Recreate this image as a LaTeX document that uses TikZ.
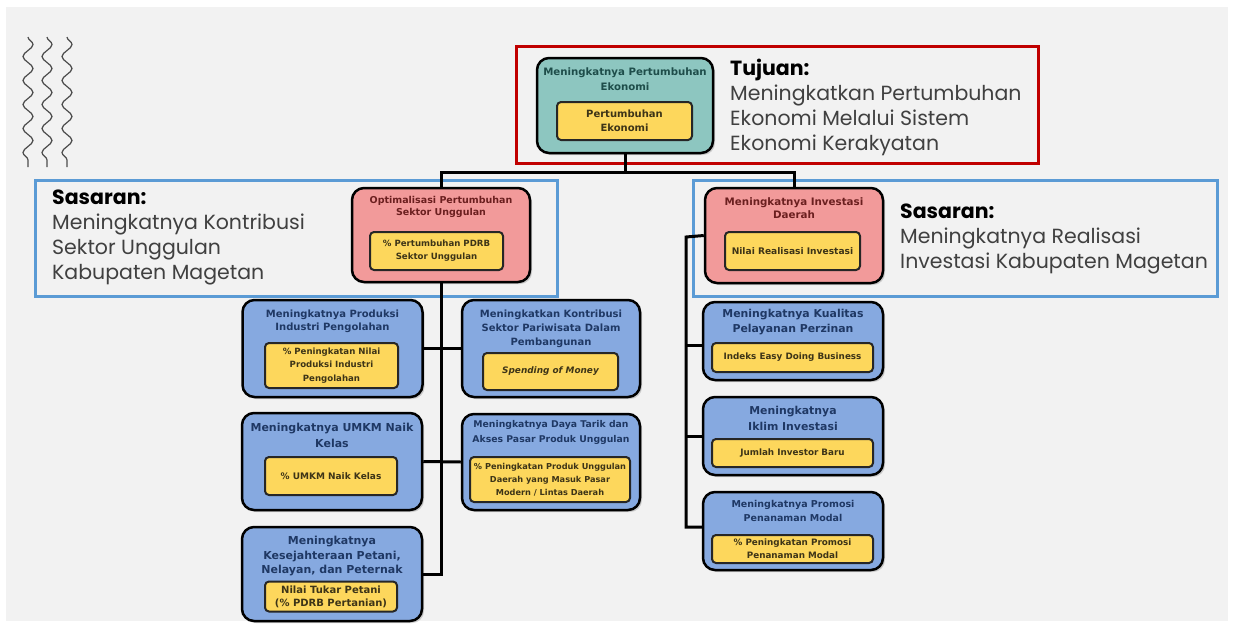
\documentclass[tikz,border=0pt]{standalone}
\usepackage{fontspec}
\setmainfont{Liberation Sans}
\newfontfamily\gothic{Poppins}
\newfontfamily\boxfont{DejaVu Sans}
\usetikzlibrary{shadows,decorations.pathmorphing,positioning}
\definecolor{bggray}{HTML}{F2F2F2}
\definecolor{frred}{HTML}{C00000}
\definecolor{frblue}{HTML}{5B9BD5}
\definecolor{tealfill}{HTML}{8DC6C0}
\definecolor{pinkfill}{HTML}{F29A9A}
\definecolor{bluefill}{HTML}{86A9E0}
\definecolor{yelfill}{HTML}{FDD75C}
\definecolor{navytxt}{HTML}{1F3864}
\definecolor{maroontxt}{HTML}{6B1F1F}
\definecolor{tealtxt}{HTML}{1E4D4A}
\definecolor{indtxt}{HTML}{3D3417}
\definecolor{graytxt}{HTML}{404040}

\begin{document}
\begin{tikzpicture}[x=1pt,y=-1pt,
    goal/.style={draw=black, line width=2.5pt, rounded corners=12pt,
        drop shadow={opacity=0.35, shadow xshift=2pt, shadow yshift=-2pt}},
    ttl/.style={font=\boxfont\bfseries\fontsize{10}{13.5}\selectfont, align=center, inner sep=0pt},
    ind/.style={draw=black!85, fill=yelfill, line width=2pt, rounded corners=4pt, align=center,
        inner sep=1pt, text=indtxt, font=\boxfont\bfseries\fontsize{8.7}{13}\selectfont},
    frame/.style={line width=3pt},
    bigtext/.style={font=\gothic\fontsize{20.5}{24.7}\selectfont, text=graytxt, align=left,
        anchor=base west, inner sep=0pt},
    link/.style={line width=3pt, black},
    wave/.style={draw=black!70, line width=1.2pt, decorate,
        decoration={snake, segment length=24pt, amplitude=5pt}}]
    \useasboundingbox (0,0) rectangle (1234,627);
    \fill[white] (0,0) rectangle (1234,627);
    \fill[bggray] (6,7) rectangle (1228,621);
    \foreach \x in {28,47,67}
        \draw[wave] (\x,37) -- (\x,167);
    \draw[frame, frred] (516,46) rectangle (1038,163);
    \draw[frame, frblue] (35,180) rectangle (557,296);
    \draw[frame, frblue] (693,180) rectangle (1217,296);
    \node[bigtext] (tujuan) at (730,150) {{\color{black}\bfseries Tujuan:}\\Meningkatkan Pertumbuhan\\Ekonomi Melalui Sistem\\Ekonomi Kerakyatan};
    \node[bigtext] (sasL) at (52,279) {{\color{black}\bfseries Sasaran:}\\Meningkatnya Kontribusi\\Sektor Unggulan\\Kabupaten Magetan};
    \node[bigtext] (sasR) at (900,268) {{\color{black}\bfseries Sasaran:}\\Meningkatnya Realisasi\\Investasi Kabupaten Magetan};
    \coordinate (bus) at (625,172);
    \coordinate (rtrunk) at (686,237);
    \node[goal, fill=tealfill, minimum width=176pt, minimum height=95pt] (eko) at (625,105.5) {};
    \node[goal, fill=pinkfill, minimum width=178pt, minimum height=94pt] (opt) at (441,235) {};
    \node[goal, fill=pinkfill, minimum width=178pt, minimum height=95pt] (inv) at (794,235.5) {};
    \node[goal, fill=bluefill, minimum width=180pt, minimum height=97pt] (prod) at (332.5,348.5) {};
    \node[goal, fill=bluefill, minimum width=180pt, minimum height=97pt] (umkm) at (332,461.5) {};
    \node[goal, fill=bluefill, minimum width=180pt, minimum height=94pt] (kes) at (332,574) {};
    \node[goal, fill=bluefill, minimum width=178pt, minimum height=97pt] (pari) at (551,348.5) {};
    \node[goal, fill=bluefill, minimum width=178pt, minimum height=96pt] (daya) at (551,462) {};
    \node[goal, fill=bluefill, minimum width=180pt, minimum height=78pt] (kual) at (793,341) {};
    \node[goal, fill=bluefill, minimum width=180pt, minimum height=78pt] (ikl) at (793,436) {};
    \node[goal, fill=bluefill, minimum width=180pt, minimum height=78pt] (prom) at (793,531) {};
    \draw[link] (eko.south) -- (bus);
    \draw[link] (opt.north) |- (inv.north |- bus) -- (inv.north);
    \draw[link] (opt.south) -- (opt.south |- kes.east) -- (kes.east);
    \draw[link] (prod.east) -- (pari.west);
    \draw[link] (umkm.east) -- (daya.west);
    \draw[link] (inv.west) -- (rtrunk) |- ([yshift=4pt]prom.west);
    \draw[link] (rtrunk |- kual.west) ++(0,4) -- ([yshift=-4pt]kual.west);
    \draw[link] (rtrunk |- ikl.west) -- (ikl.west);
    \node[ttl, text=tealtxt, font=\boxfont\bfseries\fontsize{10.2}{15}\selectfont] (ekoT) at (625,79.5) {Meningkatnya Pertumbuhan\\Ekonomi};
    \node[ind, minimum width=135pt, minimum height=38pt, font=\boxfont\bfseries\fontsize{10}{14}\selectfont] (ekoI) at (624.5,121) {Pertumbuhan\\Ekonomi};
    \node[ttl, text=maroontxt, font=\boxfont\bfseries\fontsize{9.5}{12.5}\selectfont] (optT) at (441,207) {Optimalisasi Pertumbuhan\\Sektor Unggulan};
    \node[ind, minimum width=133pt, minimum height=38pt, font=\boxfont\bfseries\fontsize{8.6}{13}\selectfont] (optI) at (436.5,251) {\% Pertumbuhan PDRB\\Sektor Unggulan};
    \node[ttl, text=maroontxt, font=\boxfont\bfseries\fontsize{10.3}{13}\selectfont] (invT) at (794,208.5) {Meningkatnya Investasi\\Daerah};
    \node[ind, minimum width=135pt, minimum height=38pt, font=\boxfont\bfseries\fontsize{9.1}{13}\selectfont] (invI) at (792.5,251) {Nilai Realisasi Investasi};
    \node[ttl, text=navytxt] (prodT) at (332.5,321.5) {Meningkatnya Produksi\\Industri Pengolahan};
    \node[ind, minimum width=133pt, minimum height=45pt, font=\boxfont\bfseries\fontsize{8.6}{13.3}\selectfont] (prodI) at (331.5,365.5) {\% Peningkatan Nilai\\Produksi Industri\\Pengolahan};
    \node[ttl, text=navytxt, font=\boxfont\bfseries\fontsize{11}{16}\selectfont] (umkmT) at (332,435) {Meningkatnya UMKM Naik\\Kelas};
    \node[ind, minimum width=132pt, minimum height=38pt, font=\boxfont\bfseries\fontsize{9}{11}\selectfont] (umkmI) at (331,476) {\% UMKM Naik Kelas};
    \node[ttl, text=navytxt, font=\boxfont\bfseries\fontsize{11}{14.2}\selectfont] (kesT) at (332,556) {Meningkatnya\\Kesejahteraan Petani,\\Nelayan, dan Peternak};
    \node[ind, minimum width=132pt, minimum height=30pt, font=\boxfont\bfseries\fontsize{10}{13}\selectfont] (kesI) at (331,596.5) {Nilai Tukar Petani\\(\% PDRB Pertanian)};
    \node[ttl, text=navytxt, font=\boxfont\bfseries\fontsize{10}{14}\selectfont] (pariT) at (551,329) {Meningkatkan Kontribusi\\Sektor Pariwisata Dalam\\Pembangunan};
    \node[ind, minimum width=135pt, minimum height=37pt, font=\boxfont\bfseries\itshape\fontsize{8.9}{11}\selectfont] (pariI) at (550.5,371.5) {Spending of Money};
    \node[ttl, text=navytxt, font=\boxfont\bfseries\fontsize{9.3}{15}\selectfont] (dayaT) at (551,432.5) {Meningkatnya Daya Tarik dan\\Akses Pasar Produk Unggulan};
    \node[ind, minimum width=160pt, minimum height=45pt, font=\boxfont\bfseries\fontsize{8.2}{13}\selectfont] (dayaI) at (550,479.5) {\% Peningkatan Produk Unggulan\\Daerah yang Masuk Pasar\\Modern / Lintas Daerah};
    \node[ttl, text=navytxt, font=\boxfont\bfseries\fontsize{10.9}{15}\selectfont] (kualT) at (793,322.5) {Meningkatnya Kualitas\\Pelayanan Perzinan};
    \node[ind, minimum width=161pt, minimum height=29pt, font=\boxfont\bfseries\fontsize{8.8}{11}\selectfont] (kualI) at (792.5,357.5) {Indeks Easy Doing Business};
    \node[ttl, text=navytxt, font=\boxfont\bfseries\fontsize{10.9}{16}\selectfont] (iklT) at (793,418.5) {Meningkatnya\\Iklim Investasi};
    \node[ind, minimum width=161pt, minimum height=28pt, font=\boxfont\bfseries\fontsize{8.8}{11}\selectfont] (iklI) at (792.5,453) {Jumlah Investor Baru};
    \node[ttl, text=navytxt, font=\boxfont\bfseries\fontsize{9.5}{14}\selectfont] (promT) at (793,511) {Meningkatnya Promosi\\Penanaman Modal};
    \node[ind, minimum width=161pt, minimum height=28pt, font=\boxfont\bfseries\fontsize{8.8}{13}\selectfont] (promI) at (792.5,549) {\% Peningkatan Promosi\\Penanaman Modal};
\end{tikzpicture}
\end{document}
